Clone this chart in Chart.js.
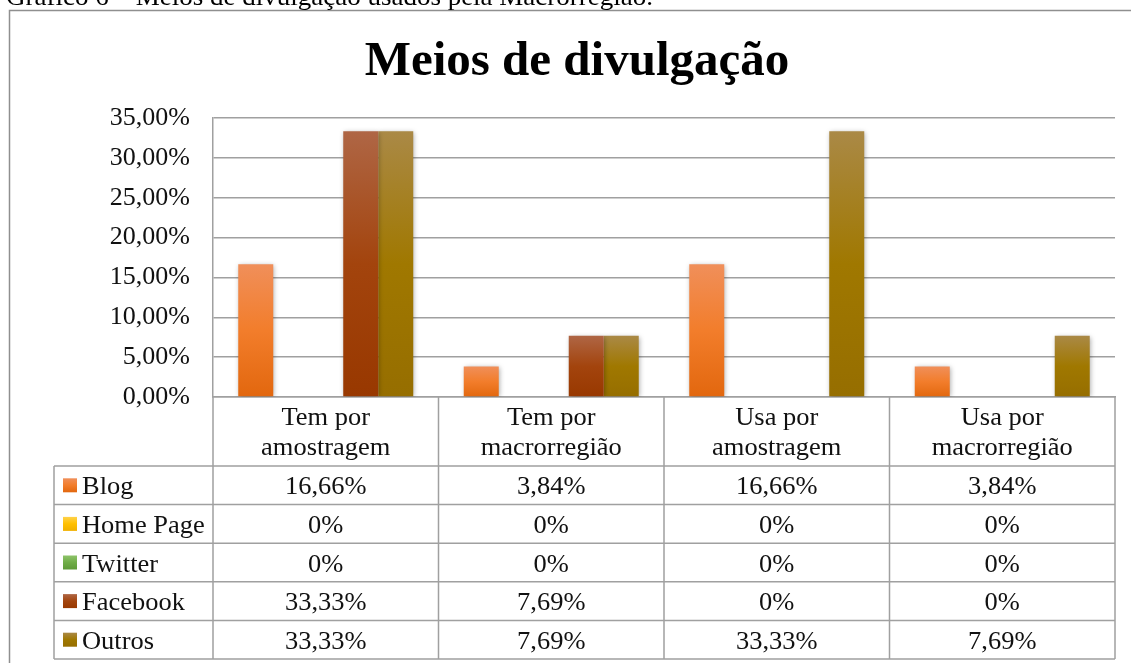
<!DOCTYPE html>
<html><head><meta charset="utf-8">
<script src="https://cdn.jsdelivr.net/npm/chart.js@4.4.1/dist/chart.umd.min.js"></script>
<style>html,body{margin:0;padding:0;background:#fff;overflow:hidden}#wrap{position:absolute;left:0;top:0;width:1131px;height:663px}</style>
</head><body><div id="wrap"><canvas id="c" width="1131" height="663"></canvas></div>
<script>
// ---- data ----
const captionText = 'Gráfico 6 – Meios de divulgação usados pela Macrorregião.';
const titleText = 'Meios de divulgação';
const categories = [['Tem por','amostragem'],['Tem por','macrorregião'],['Usa por','amostragem'],['Usa por','macrorregião']];
const seriesNames = ['Blog','Home Page','Twitter','Facebook','Outros'];
const blog = [16.66, 3.84, 16.66, 3.84];
const homePage = [0, 0, 0, 0];
const twitter = [0, 0, 0, 0];
const facebook = [33.33, 7.69, 0, 0];
const outros = [33.33, 7.69, 33.33, 7.69];
const yTicks = [0, 5, 10, 15, 20, 25, 30, 35];

// ---- style ----
const serif = "'Liberation Serif','Times New Roman',serif";
const SX = 1.08;
const palette = {
  'Blog': ['#F08F5A', '#F27D2B', '#E2670E'],
  'Home Page': ['#FFD24A', '#FFC000', '#F0B000'],
  'Twitter': ['#8DC36A', '#70AD47', '#5E9A38'],
  'Facebook': ['#AF6645', '#A3440D', '#983800'],
  'Outros': ['#AA8946', '#A07800', '#966E00']
};
const seriesData = [blog, homePage, twitter, facebook, outros];

function fmt(v){ return v === 0 ? '0%' : v.toFixed(2).replace('.', ',') + '%'; }

function grad(ctx, name){
  const chart = ctx.chart, c = palette[name];
  if (!chart.chartArea || ctx.type !== 'data') return c[1];
  const y = chart.scales.y;
  const top = y.getPixelForValue(ctx.raw), bot = y.getPixelForValue(0);
  if (!(bot - top > 0)) return c[1];
  const g = chart.ctx.createLinearGradient(0, top, 0, bot);
  g.addColorStop(0, c[0]); g.addColorStop(0.5, c[1]); g.addColorStop(1, c[2]);
  return g;
}

function sText(ctx, str, x, y, align){
  ctx.save(); ctx.translate(x, y); ctx.scale(SX, 1);
  ctx.textAlign = align; ctx.textBaseline = 'alphabetic';
  ctx.fillText(str, 0, 0); ctx.restore();
}

const decor = {
  id: 'decor',
  beforeDraw(chart){
    const ctx = chart.ctx;
    ctx.save();
    ctx.fillStyle = '#fff'; ctx.fillRect(0, 0, chart.width, chart.height);
    ctx.strokeStyle = '#8F8F8F'; ctx.lineWidth = 1.5;
    ctx.strokeRect(9.5, 10.5, 1300, 800);
    ctx.fillStyle = '#000'; ctx.font = '25px ' + serif;
    sText(ctx, captionText, 6, 5, 'left');
    ctx.restore();
  },
  beforeDatasetsDraw(chart){
    const ctx = chart.ctx;
    ctx.save();
    ctx.shadowColor = 'rgba(0,0,0,0.35)';
    ctx.shadowBlur = 5; ctx.shadowOffsetX = 1; ctx.shadowOffsetY = 1;
  },
  afterDatasetsDraw(chart){ chart.ctx.restore(); },
  afterDraw(chart){
    const ctx = chart.ctx, x = chart.scales.x, y = chart.scales.y;
    const n = categories.length;
    const colW = (x.right - x.left) / n;
    const axisY = y.getPixelForValue(0);
    const headerBottom = axisY + 69;
    const rowH = 38.6;
    const tableLeft = 54;
    const bottom = headerBottom + rowH * seriesNames.length;
    const edges = [];
    for (let i = 0; i < n; i++) edges.push(x.getPixelForValue(i) - colW / 2);
    edges.push(x.getPixelForValue(n - 1) + colW / 2);
    ctx.save();
    ctx.strokeStyle = '#A0A0A0'; ctx.lineWidth = 1.5;
    ctx.beginPath();
    edges.forEach(e => { ctx.moveTo(e, axisY); ctx.lineTo(e, bottom); });
    ctx.moveTo(tableLeft, headerBottom); ctx.lineTo(tableLeft, bottom);
    for (let k = 0; k <= seriesNames.length; k++){
      const yy = headerBottom + k * rowH;
      ctx.moveTo(tableLeft, yy); ctx.lineTo(edges[n], yy);
    }
    ctx.stroke();
    ctx.fillStyle = '#111'; ctx.font = '24.5px ' + serif;
    categories.forEach((lines, i) => {
      const cx = x.getPixelForValue(i);
      sText(ctx, lines[0], cx, axisY + 28, 'center');
      sText(ctx, lines[1], cx, axisY + 58, 'center');
    });
    seriesNames.forEach((name, k) => {
      const rc = headerBottom + k * rowH + rowH / 2;
      const c = palette[name];
      const g = ctx.createLinearGradient(0, rc - 7, 0, rc + 7);
      g.addColorStop(0, c[0]); g.addColorStop(0.5, c[1]); g.addColorStop(1, c[2]);
      ctx.fillStyle = g; ctx.fillRect(63, rc - 7, 14, 14);
      ctx.fillStyle = '#111';
      sText(ctx, name, 82, rc + 9, 'left');
      seriesData[k].forEach((v, i) => sText(ctx, fmt(v), x.getPixelForValue(i), rc + 9, 'center'));
    });
    ctx.restore();
  }
};

new Chart(document.getElementById('c'), {
  type: 'bar',
  data: {
    labels: categories,
    datasets: seriesNames.map((name, k) => ({
      label: name, data: seriesData[k],
      backgroundColor: ctx => grad(ctx, name),
      borderWidth: 0, categoryPercentage: 0.776, barPercentage: 1
    }))
  },
  options: {
    responsive: false, animation: false, devicePixelRatio: 1,
    layout: { padding: { left: 39, right: 16, top: 0, bottom: 0 } },
    plugins: {
      legend: { display: false }, tooltip: { enabled: false },
      title: { display: true, text: titleText, color: '#000',
        font: { family: serif, size: 49, weight: 'bold' }, padding: { top: 33, bottom: 26.2 } }
    },
    scales: {
      x: {
        grid: { display: false, drawTicks: false },
        border: { display: true, color: '#A0A0A0', width: 1.5 },
        ticks: { display: false },
        afterFit(s){ s.height = 266; }
      },
      y: {
        min: 0, max: 35,
        afterBuildTicks(s){ s.ticks = yTicks.map(v => ({ value: v })); },
        ticks: { padding: 23, color: '#111', font: { family: serif, size: 26 },
          callback: v => v.toFixed(2).replace('.', ',') + '%' },
        grid: { color: '#A0A0A0', lineWidth: 1.5, drawTicks: false },
        border: { display: true, color: '#A0A0A0', width: 1.5 },
        afterFit(s){ s.width = 174; }
      }
    }
  },
  plugins: [decor]
});
</script></body></html>
